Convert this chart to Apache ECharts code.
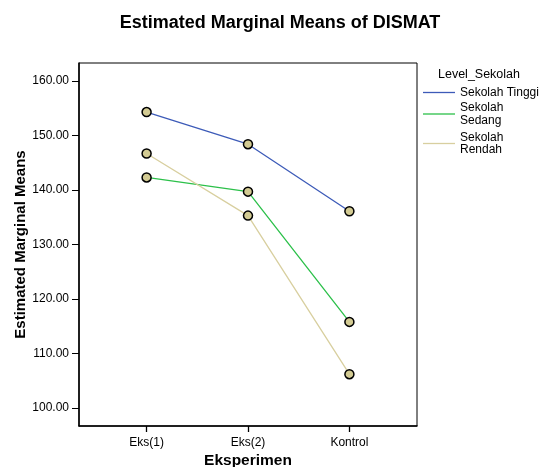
<!DOCTYPE html>
<html><head><meta charset="utf-8">
<script src="https://cdn.jsdelivr.net/npm/echarts@6/dist/echarts.min.js"></script>
<style>html,body{margin:0;padding:0;background:#fff}#c{width:541px;height:467px}</style>
</head><body><div id="c"></div>
<script>
const categories = ['Eks(1)', 'Eks(2)', 'Kontrol'];
const seriesNames = ['Sekolah Tinggi', 'Sekolah Sedang', 'Sekolah Rendah'];
const legendLabels = ['Sekolah Tinggi', 'Sekolah\nSedang', 'Sekolah\nRendah'];
const tinggi = [154.3, 148.4, 136.1];
const sedang = [142.3, 139.7, 115.8];
const rendah = [146.7, 135.3, 106.2];
const yTicks = [100, 110, 120, 130, 140, 150, 160];
const colors = ['#3d5bb8', '#2cc04a', '#d8cf9f'];

const font = 'Arial, "Liberation Sans", sans-serif';
const chart = echarts.init(document.getElementById('c'), null, {renderer: 'canvas'});
const mk = (name, vals, color) => ({
  name, type: 'line', data: vals.map((v, i) => [i, v]),
  symbol: 'circle', symbolSize: 9,
  lineStyle: {color, width: 1.3},
  itemStyle: {color: '#d3cb93', borderColor: '#000', borderWidth: 1.5},
  emphasis: {disabled: true}
});
// legend drawn as graphic items
const legendY = [92.5, 114, 143.5];
const legendGraphics = [{type: 'text', left: 438, top: 68, style: {text: 'Level_Sekolah', font: '12.5px ' + font, fill: '#000'}}];
legendLabels.forEach((t, i) => {
  legendGraphics.push({type: 'line', shape: {x1: 423, y1: legendY[i], x2: 455, y2: legendY[i]}, style: {stroke: colors[i], lineWidth: 1.3}});
  legendGraphics.push({type: 'text', x: 460, y: legendY[i], style: {text: t, font: '12px ' + font, fill: '#000', lineHeight: 12.5, verticalAlign: 'middle', align: 'left'}});
});
chart.setOption({
  animation: false,
  title: {text: 'Estimated Marginal Means of DISMAT', left: 275, top: 9, textAlign: 'center',
    textStyle: {fontFamily: font, fontSize: 18, fontWeight: 'bold', color: '#000'}},
  graphic: legendGraphics,
  grid: {left: 79, top: 63, right: 124, bottom: 41, show: true, borderColor: '#000', borderWidth: 1, outerBoundsMode: 'none', containLabel: false},
  xAxis: {
    type: 'value', min: -2/3, max: 8/3,
    name: 'Eksperimen', nameLocation: 'middle', nameGap: 27, nameMoveOverlap: false,
    nameTextStyle: {fontFamily: font, fontSize: 15.5, fontWeight: 'bold', color: '#000'},
    axisLine: {show: true, onZero: false, lineStyle: {color: '#000', width: 1.5}},
    axisTick: {show: true, length: 6, customValues: [0, 1, 2], lineStyle: {color: '#000', width: 1.3}},
    axisLabel: {customValues: [0, 1, 2], formatter: v => categories[Math.round(v)], fontFamily: font, fontSize: 12, color: '#000', margin: 11},
    splitLine: {show: false}
  },
  yAxis: {
    type: 'value', min: 96.7, max: 163.3,
    name: 'Estimated Marginal Means', nameLocation: 'middle', nameGap: 51, nameMoveOverlap: false,
    nameTextStyle: {fontFamily: font, fontSize: 15, fontWeight: 'bold', color: '#000'},
    axisLine: {show: true, onZero: false, lineStyle: {color: '#000', width: 1.5}},
    axisTick: {show: true, length: 7, customValues: yTicks, lineStyle: {color: '#000', width: 1}},
    axisLabel: {customValues: yTicks, formatter: v => v.toFixed(2), fontFamily: font, fontSize: 12, color: '#000', margin: 10},
    splitLine: {show: false}
  },
  series: [mk(seriesNames[0], tinggi, colors[0]), mk(seriesNames[1], sedang, colors[1]), mk(seriesNames[2], rendah, colors[2])]
});
</script></body></html>
